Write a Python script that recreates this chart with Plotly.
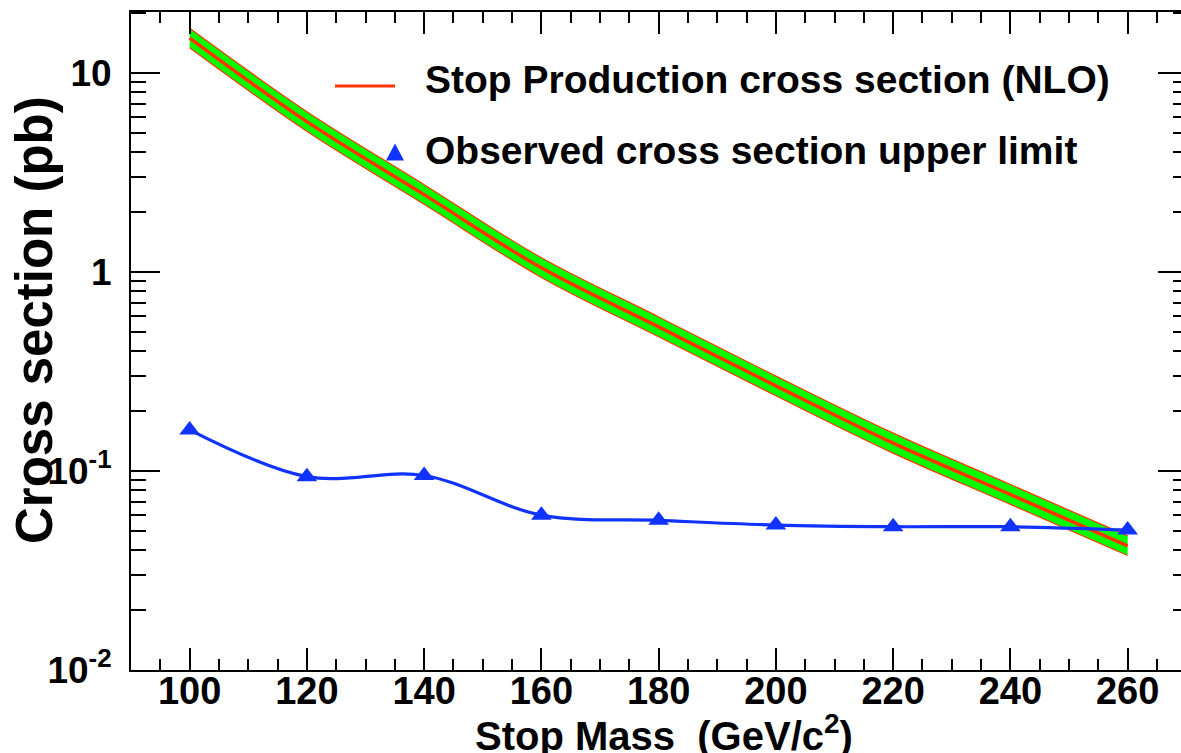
import plotly.graph_objects as go

# ---- data ----
mass = [100, 120, 140, 160, 180, 200, 220, 240, 260]
xsec_nlo = [15.0, 5.7, 2.45, 1.05, 0.53, 0.268, 0.138, 0.0762, 0.0421]
xsec_nlo_up = [16.8, 6.4, 2.75, 1.18, 0.595, 0.30, 0.155, 0.0855, 0.0472]
xsec_nlo_dn = [13.4, 5.1, 2.19, 0.94, 0.473, 0.239, 0.123, 0.068, 0.0376]
obs_limit = [0.161, 0.0937, 0.0950, 0.060, 0.0565, 0.0535, 0.0525, 0.0525, 0.0505]

y_tickvals = [0.01, 0.1, 1, 10]
y_ticktext = ["10<sup>-2</sup>", "10<sup>-1</sup>", "1", "10"]
legend_labels = ["Stop Production cross section (NLO)", "Observed cross section upper limit"]
x_title = "Stop Mass\u00a0\u00a0(GeV/c<sup>2</sup>)"
y_title = "Cross section (pb)"

RED = "#ff3300"
GREEN = "#00ff00"
BLUE = "#1133ff"
FONT = "Liberation Sans"

minor_vals = [m * 10 ** e for e in (-2, -1, 0, 1) for m in range(2, 10)]

fig = go.Figure()
fig.add_trace(go.Scatter(x=mass, y=xsec_nlo_up, mode="lines",
                         line=dict(color=RED, width=1.2, shape="spline"),
                         hoverinfo="skip"))
fig.add_trace(go.Scatter(x=mass, y=xsec_nlo_dn, mode="lines", fill="tonexty",
                         fillcolor=GREEN,
                         line=dict(color=RED, width=1.2, shape="spline"),
                         hoverinfo="skip"))
fig.add_trace(go.Scatter(x=mass, y=xsec_nlo, mode="lines",
                         line=dict(color=RED, width=3.5, shape="spline"),
                         name=legend_labels[0]))
fig.add_trace(go.Scatter(x=mass, y=obs_limit, mode="lines+markers",
                         line=dict(color=BLUE, width=3.2, shape="spline"),
                         marker=dict(symbol="triangle-up", size=18, color=BLUE),
                         name=legend_labels[1]))
# invisible trace that activates the right-hand tick axis
fig.add_trace(go.Scatter(x=mass, y=obs_limit, yaxis="y2", mode="lines",
                         line=dict(width=0), opacity=0, hoverinfo="skip"))

W, H = 1181, 753
L, R, T, B = 131, 0, 12, 83
pw, ph = W - L - R, H - T - B


def px(xs):
    return (xs - L) / pw


def py(ys):
    return (H - B - ys) / ph


fig.update_layout(
    width=W, height=H,
    margin=dict(l=L, r=R, t=T, b=B, autoexpand=False),
    plot_bgcolor="white", paper_bgcolor="white",
    showlegend=False,
    font=dict(family=FONT, color="black", size=39, weight="bold"),
    xaxis=dict(
        range=[90, 269.1], tickmode="linear", tick0=100, dtick=20,
        ticks="inside", ticklen=22, tickwidth=2, tickcolor="black",
        minor=dict(ticks="inside", ticklen=11, tickwidth=2, tick0=0, dtick=5, tickcolor="black"),
        showline=True, linewidth=2, linecolor="black", mirror="ticks",
        showgrid=False, zeroline=False, automargin=False,
        tickfont=dict(family=FONT, size=38, weight="bold"),
        ticklabelstandoff=-14,
    ),
    yaxis=dict(
        type="log", range=[-2, 1.307],
        tickmode="array", tickvals=y_tickvals, ticktext=y_ticktext,
        ticks="inside", ticklen=29, tickwidth=2, tickcolor="black",
        minor=dict(tickmode="array", tickvals=minor_vals, ticks="inside",
                   ticklen=15, tickwidth=2, tickcolor="black"),
        showline=True, linewidth=2, linecolor="black", mirror=False,
        showgrid=False, zeroline=False, automargin=False,
        tickfont=dict(family=FONT, size=37, weight="bold"),
        ticklabelstandoff=10,
    ),
    yaxis2=dict(
        type="log", range=[-2, 1.307], overlaying="y", side="right",
        tickmode="array", tickvals=y_tickvals,
        ticks="inside", ticklen=23, tickwidth=2, tickcolor="black",
        minor=dict(tickmode="array", tickvals=minor_vals, ticks="inside",
                   ticklen=8, tickwidth=2, tickcolor="black"),
        showline=False, showgrid=False, zeroline=False, showticklabels=False,
        automargin=False,
    ),
)

# axis titles
fig.add_annotation(xref="paper", yref="paper", x=px(664), y=py(733),
                   text=x_title, showarrow=False, xanchor="center", yanchor="middle",
                   font=dict(family=FONT, size=40, weight="bold", color="black"))
fig.add_annotation(xref="paper", yref="paper", x=px(34), y=py(320),
                   text=y_title, showarrow=False, xanchor="center", yanchor="middle",
                   textangle=-90,
                   font=dict(family=FONT, size=51, weight="bold", color="black"))

# legend drawn manually
fig.add_shape(type="line", xref="paper", yref="paper",
              x0=px(335), x1=px(395), y0=py(86), y1=py(86),
              line=dict(color=RED, width=3))
tx, ty, tw, th = 395, 152, 18, 17
fig.add_shape(type="path", xref="paper", yref="paper",
              path=f"M {px(tx - tw / 2)},{py(ty + th / 2)} L {px(tx + tw / 2)},{py(ty + th / 2)} "
                   f"L {px(tx)},{py(ty - th / 2)} Z",
              fillcolor=BLUE, line=dict(color=BLUE, width=0))
fig.add_annotation(xref="paper", yref="paper", x=px(423), y=py(80),
                   text=legend_labels[0], showarrow=False, xanchor="left", yanchor="middle",
                   font=dict(family=FONT, size=39, weight="bold", color="black"))
fig.add_annotation(xref="paper", yref="paper", x=px(423), y=py(150),
                   text=legend_labels[1], showarrow=False, xanchor="left", yanchor="middle",
                   font=dict(family=FONT, size=39, weight="bold", color="black"))

# remove the default page margin so the 1181x753 figure fills the window exactly
fig.write_html("out.html",
               config={"displayModeBar": False, "staticPlot": True},
               post_script="document.body.style.margin='0px';")
